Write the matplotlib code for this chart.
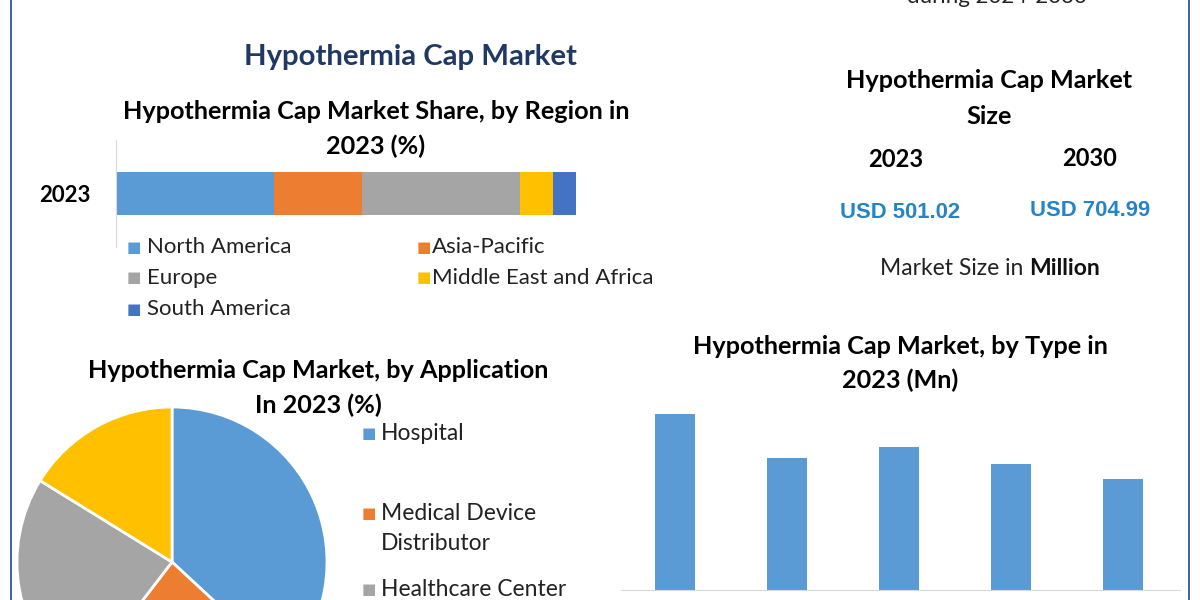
import matplotlib
matplotlib.use("Agg")
import matplotlib.pyplot as plt
from matplotlib.lines import Line2D

# ---------------- data ----------------
regions = ["North America", "Asia-Pacific", "Europe", "Middle East and Africa", "South America"]
region_share = [34.3, 19.2, 34.4, 7.1, 5.0]
region_colors = ["#5B9BD5", "#ED7D31", "#A5A5A5", "#FFC000", "#4472C4"]
region_year = "2023"

applications = ["Hospital", "Medical Device\nDistributor", "Healthcare Center", "Others"]
application_share = [36.9, 23.5, 23.4, 16.2]
application_colors = ["#5B9BD5", "#ED7D31", "#A5A5A5", "#FFC000"]

types = ["Type 1", "Type 2", "Type 3", "Type 4", "Type 5"]
type_values = [128.2, 96.1, 104.1, 91.7, 80.8]

size_years = ["2023", "2030"]
size_values = ["USD 501.02", "USD 704.99"]

# ---------------- layout helpers ----------------
W, H = 1200, 600
fig = plt.figure(figsize=(W / 100, H / 100), dpi=100)
fig.patch.set_facecolor("white")
renderer = fig.canvas.get_renderer()

def fx(x):
    return x / W

def fy(y):
    return 1 - y / H

FONT = "Lato"

def text(x, y, s, width=None, size=14, ha="center", va="center", **kw):
    kw.setdefault("family", FONT)
    t = fig.text(fx(x), fy(y), s, ha=ha, va=va, fontsize=size, **kw)
    if width is not None:
        w = t.get_window_extent(renderer).width
        t.set_fontsize(size * width / w)
    return t

# borders
for xb in (11, 1189):
    fig.add_artist(Line2D([fx(xb), fx(xb)], [0, 1], color="#2F5597", lw=1.3))

# ---------------- titles & texts ----------------
text(410, 57, "Hypothermia Cap Market", width=335, weight="bold", color="#1F3864")
t_reg = text(376, 111, "Hypothermia Cap Market Share, by Region in", width=513, weight="bold", color="black")
sub_fs = t_reg.get_fontsize()
text(376, 146, "2023 (%)", size=sub_fs, weight="bold", color="black")

text(997, 3, "during 2024-2030", size=16, va="baseline", color="#222222")

text(989, 81, "Hypothermia Cap Market", width=289, weight="bold", color="black")
text(989, 116, "Size", size=sub_fs, weight="bold", color="black")
for xc, yc, yr in zip((896, 1090), (160, 158), size_years):
    text(xc, yc, yr, width=55, weight="bold", color="black")
for xc, yc, v in zip((900, 1090), (213, 211), size_values):
    text(xc, yc, v, width=120, weight="bold", color="#2484C6", family="Liberation Sans")

t1 = text(880, 269, "Market Size in ", size=16.5, ha="left", color="#222222")
t1w = t1.get_window_extent(renderer)
tm = fig.text(0, 0, "Million", fontsize=16.5, family=FONT, weight="bold", color="#111111",
              transform=None, ha="left", va="center")
tm.set_position((t1w.x1, (t1w.y0 + t1w.y1) / 2))

text(900, 346, "Hypothermia Cap Market, by Type in", width=419, weight="bold", color="black")
text(900, 380, "2023 (Mn)", size=sub_fs, weight="bold", color="black")

text(318, 371, "Hypothermia Cap Market, by Application", width=464, weight="bold", color="black")
text(318, 405, "In 2023 (%)", size=sub_fs, weight="bold", color="black")

# ---------------- stacked region bar ----------------
axr = fig.add_axes([fx(116), fy(247), 460 / W, 107 / H])
left = 0
for name, val, col in zip(regions, region_share, region_colors):
    axr.barh([0], [val], left=left, height=0.8, color=col, label=name)
    left += val
axr.set_xlim(0, 100)
axr.set_ylim(-1, 1)
for s in ("top", "right", "bottom"):
    axr.spines[s].set_visible(False)
axr.spines["left"].set_color("#D9D9D9")
axr.set_xticks([])
axr.set_yticks([0])
axr.set_yticklabels([region_year], fontsize=16, fontweight="bold", family=FONT)
axr.tick_params(axis="y", length=0, pad=18)

# region legend (manual, row-major)
leg_pos = [(127, 147, 247), (417, 432, 247), (127, 147, 278), (417, 432, 278), (127, 147, 309)]
for (sx, tx, ty), name, col in zip(leg_pos, regions, region_colors):
    fig.text(fx(sx), fy(ty), "■", color=col, fontsize=11, family="DejaVu Sans", ha="left", va="center")
    text(tx, ty, name, size=16, ha="left", color="#222222")

# ---------------- pie ----------------
axp = fig.add_axes([fx(172 - 155), fy(562 + 155), 310 / W, 310 / H])
axp.pie(application_share, colors=application_colors, startangle=90, counterclock=False,
        wedgeprops=dict(edgecolor="white", linewidth=2))
axp.set_xlim(-1, 1)
axp.set_ylim(-1, 1)
axp.set_aspect("equal")

# pie legend (the fourth entry lies below the visible area, as in the reference)
pie_leg_y = [434, 513, 590]
for ly, name, col in zip(pie_leg_y, applications, application_colors):
    fig.text(fx(362), fy(ly), "■", color=col, fontsize=11,
             family="DejaVu Sans", ha="left", va="center")
    for k, part in enumerate(name.split("\n")):
        text(381, ly + 31 * k, part, size=16.5, ha="left", color="#222222")

# ---------------- type bar chart ----------------
axb = fig.add_axes([fx(621), fy(590), 559 / W, 190 / H])
axb.bar(range(len(types)), type_values, width=0.357, color="#5B9BD5")
axb.set_xlim(-0.482, 4.51)
axb.set_ylim(0, 138.3)
for s in ("top", "right", "left"):
    axb.spines[s].set_visible(False)
axb.spines["bottom"].set_color("#D9D9D9")
axb.set_xticks([])
axb.set_yticks([])

fig.savefig("out.png", dpi=100, facecolor="white")
